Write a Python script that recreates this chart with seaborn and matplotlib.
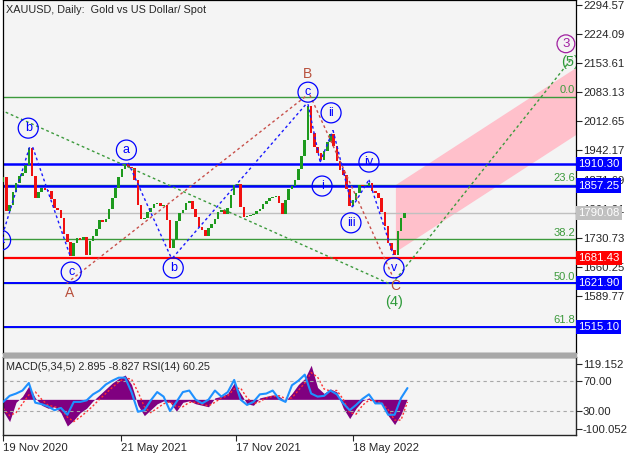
import numpy as np
import pandas as pd
import matplotlib
matplotlib.use("Agg")
import matplotlib.pyplot as plt
import matplotlib.dates as mdates
import matplotlib.transforms as mtrans
from matplotlib.patches import Rectangle, Polygon
import seaborn as sns

# ---------------- data ----------------
title = "XAUUSD, Daily:  Gold vs US Dollar/ Spot"
indicator_text = "MACD(5,34,5) 2.895 -8.827 RSI(14) 60.25"
start_date = "2020-11-19"

# closes sampled every 5 calendar days
close = [1878, 1795, 1810, 1842, 1863, 1880, 1887, 1907, 1948, 1880,
         1827, 1842, 1851, 1846, 1844, 1825, 1803, 1798, 1779, 1740,
         1721, 1687, 1718, 1730, 1725, 1733, 1689, 1723, 1735, 1752,
         1774, 1770, 1776, 1800, 1827, 1851, 1878, 1897, 1909, 1902,
         1899, 1871, 1810, 1776, 1779, 1793, 1803, 1813, 1815, 1808,
         1810, 1774, 1705, 1725, 1771, 1791, 1798, 1815, 1820, 1800,
         1781, 1757, 1750, 1735, 1755, 1764, 1776, 1793, 1798, 1788,
         1803, 1834, 1859, 1861, 1805, 1781, 1784, 1785, 1788, 1796,
         1800, 1813, 1820, 1827, 1830, 1832, 1815, 1788, 1822, 1849,
         1856, 1871, 1897, 1929, 1967, 2050, 1985, 1950, 1936, 1919,
         1941, 1962, 1982, 1953, 1917, 1895, 1883, 1849, 1808, 1822,
         1839, 1859, 1855, 1856, 1863, 1844, 1839, 1827, 1793, 1759,
         1718, 1701, 1690, 1747, 1779, 1790.08]
first_open = 1866

# indicator values sampled every 10 calendar days
macd = [-40, -75, -10, 10, 45, 5, -20, -30, -25, -45,
        -90, -70, -45, -30, -5, 15, 35, 55, 70, 82,
        50, -20, -55, -35, -15, -5, -10, -40, -10, -5,
        -15, -20, -25, 5, 10, 20, 55, 20, -15, -20,
        5, 10, 15, 10, -5, 20, 50, 70, 115, 40,
        20, 35, 25, -30, -65, -30, -5, 5, -10, -15,
        -55, -85, -50, 2.895]
signal = [-30, -55, -45, -15, 15, 25, 0, -20, -25, -30,
          -60, -75, -60, -42, -22, 0, 20, 40, 58, 72,
          68, 25, -25, -45, -30, -15, -8, -25, -25, -10,
          -10, -17, -22, -10, 5, 12, 35, 38, 5, -15,
          -8, 5, 10, 12, 3, 5, 30, 55, 90, 75,
          35, 28, 30, 0, -45, -50, -20, -3, -5, -12,
          -35, -70, -70, -8.827]
rsi = [42, 50, 53, 57, 67, 41, 39, 36, 31, 34,
       25, 42, 42, 44, 52, 57, 65, 70, 74, 74,
       55, 29, 31, 44, 55, 49, 30, 42, 55, 57,
       45, 40, 45, 57, 49, 55, 71, 45, 38, 42,
       52, 53, 57, 46, 42, 64, 70, 78, 53, 49,
       50, 57, 52, 40, 31, 38, 46, 52, 40, 40,
       25, 25, 47, 60.25]

price_ticks = [2294.57, 2224.09, 2153.61, 2083.13, 2012.65, 1942.17,
               1871.69, 1801.21, 1730.73, 1660.25, 1589.77]
date_ticks = ["2020-11-19", "2021-05-21", "2021-11-17", "2022-05-18"]
date_labels = ["19 Nov 2020", "21 May 2021", "17 Nov 2021", "18 May 2022"]

level_prices = [1910.30, 1857.25, 1790.08, 1681.43, 1621.90, 1515.10]
level_colors = ["#0000FF", "#0000FF", "#C0C0C0", "#FF0000", "#0000FF", "#0000FF"]
level_widths = [1.8, 1.8, 1.0, 1.6, 1.4, 1.4]

fib_names = ["0.0", "23.6", "38.2", "50.0", "61.8"]
fib_prices = [2072.0, 1859.6, 1728.2, 1622.0, 1515.8]

# wave labels: (text, day offset, price)
minor_waves = [("a", -4, 1725), ("b", 39, 1996), ("c", 106, 1648),
               ("a", 192, 1943), ("b", 265, 1658), ("c", 475, 2083),
               ("ii", 511, 2033), ("i", 497, 1856), ("iv", 570, 1914),
               ("iii", 542, 1767), ("v", 609, 1658)]
major_waves = [("A", 103, 1598), ("B", 475, 2126), ("C", 611, 1615)]
green_waves = [("(4)", 609, 1576), ("(5)", 884, 2156)]
purple_waves = [("3", 877, 2200)]

green_segs = [((-4, 2040), (603, 1619)), ((606, 1619), (887, 2166))]
brown_segs = [((99, 1621), (474, 2076)), ((478, 2076), (608, 1634))]
blue_segs = [((-1, 1738), (42, 1955)), ((46, 1950), (105, 1684)),
             ((195, 1912), (262, 1682)), ((264, 1682), (472, 2054)),
             ((475, 2054), (494, 1914)), ((494, 1914), (514, 1991)),
             ((514, 1991), (544, 1805)), ((544, 1805), (570, 1871)),
             ((570, 1871), (608, 1689))]
channel_days = [612, 893, 893, 612]
channel_prices = [1858.5, 2141.5, 1979.5, 1696.5]

# ---------------- style ----------------
sns.set_style("white")
plt.rcParams["font.family"] = ["Liberation Sans", "DejaVu Sans"]
plt.rcParams["font.size"] = 8

BG = "#F4F4F4"
W, H = 640, 457
fig = plt.figure(figsize=(6.4, 4.57), dpi=100)
fig.patch.set_facecolor("white")

ax = fig.add_axes([3 / W, 1 - 353 / H, 573 / W, 353 / H])
ax2 = fig.add_axes([3 / W, 1 - 435 / H, 573 / W, 78 / H])
ax3 = ax2.twinx()
fig.patches.append(Rectangle((3 / W, 1 - 357 / H), 573 / W, 4 / H,
                             transform=fig.transFigure, color="#A8A8A8", zorder=0))

d0 = mdates.date2num(pd.Timestamp(start_date))
dates = pd.date_range(start_date, periods=len(close), freq="5D")
xc = mdates.date2num(dates)
closes = np.array(close, dtype=float)
opens = np.concatenate([[first_open], closes[:-1]])

for a in (ax, ax2):
    a.set_facecolor(BG)
    a.set_xlim(d0 - 0.3, d0 + 892.7)
    for s in a.spines.values():
        s.set_color("black")
        s.set_linewidth(0.9)

# main panel
ax.set_ylim(1452.2, 2305.9)
ax.add_patch(Polygon(list(zip(d0 + np.array(channel_days), channel_prices)),
                     closed=True, color="#FFC0CB", lw=0, zorder=1))

for p, n in zip(fib_prices, fib_names):
    ax.axhline(p, color="#3C9A3C", lw=1.0, zorder=2)
    ax.text(d0 + 891, p + 3, n, color="#3C9A3C", ha="right", va="bottom",
            fontsize=8, zorder=6)
for p, c, lw in zip(level_prices, level_colors, level_widths):
    ax.axhline(p, color=c, lw=lw, zorder=2)

heights = closes - opens
cols = np.where(heights >= 0, "#1E9A1E", "#F01010")
heights = np.where(np.abs(heights) < 2.5, np.where(heights >= 0, 2.5, -2.5), heights)
ax.bar(xc, heights, bottom=opens, width=4.0, color=cols, linewidth=0, zorder=4)

def seg(segs, color):
    for (xa, ya), (xb, yb) in segs:
        ax.plot([d0 + xa, d0 + xb], [ya, yb], color=color, lw=1.0,
                linestyle=(0, (2, 2)), zorder=5)

seg(green_segs, "#3C9A3C")
seg(brown_segs, "#C8504A")
seg(blue_segs, "#1A1AFF")

for t, dd, p in minor_waves:
    ax.text(d0 + dd, p, t, color="#0000FF", fontsize=9, ha="center", va="center",
            zorder=7, clip_on=True,
            bbox=dict(boxstyle="circle,pad=0.32", fc="none", ec="#0000FF", lw=0.9))
for t, dd, p in major_waves:
    ax.text(d0 + dd, p, t, color="#B8503C", fontsize=10, ha="center", va="center", zorder=7)
for t, dd, p in green_waves:
    ax.text(d0 + dd, p, t, color="#2E9A3A", fontsize=10.5, ha="center", va="center",
            zorder=7, clip_on=True)
for t, dd, p in purple_waves:
    ax.text(d0 + dd, p, t, color="#A020A0", fontsize=9.5, ha="center", va="center",
            zorder=7, bbox=dict(boxstyle="circle,pad=0.22", fc="none", ec="#A020A0", lw=0.9))

ax.text(0.006, 0.972, title, transform=ax.transAxes, fontsize=7.8, ha="left", va="center")

ax.set_xticks([])
ax.yaxis.tick_right()
ax.set_yticks(price_ticks)
ax.set_yticklabels([f"{v:.2f}" for v in price_ticks])
ax.tick_params(axis="y", right=True, length=4, width=0.8, pad=1, labelsize=8.2)

tr = mtrans.blended_transform_factory(ax.transAxes, ax.transData)
for p, c in zip(level_prices, level_colors):
    ax.text(1.004, p, f"{p:.2f}", transform=tr, color="white", fontsize=8.2,
            ha="left", va="center", zorder=10, clip_on=False,
            bbox=dict(boxstyle="square,pad=0.18", fc=c, ec="none"))

# indicator panel
xm = mdates.date2num(pd.date_range(start_date, periods=len(macd), freq="10D"))
ax2.set_ylim(-120.3, 142.8)
ax3.set_ylim(-1.7, 101.3)
ax2.fill_between(xm, 0, macd, color="#800080", lw=0, zorder=2)
sns.lineplot(x=xm, y=signal, ax=ax2, color="#FF3030", lw=1.0,
             linestyle=(0, (1.5, 1.5)), zorder=3)
ax3.axhline(70, color="#A8A8A8", lw=0.8, linestyle=(0, (3, 3)))
ax3.axhline(30, color="#A8A8A8", lw=0.8, linestyle=(0, (3, 3)))
sns.lineplot(x=xm, y=rsi, ax=ax3, color="#1E90FF", lw=1.5, zorder=4)
ax2.set_xlim(d0 - 0.3, d0 + 892.7)
ax3.set_xlim(d0 - 0.3, d0 + 892.7)

ax2.yaxis.tick_right()
ax2.set_yticks([119.152, -100.052])
ax2.set_yticklabels(["119.152", "-100.052"])
ax3.set_yticks([70, 30])
ax3.set_yticklabels(["70.00", "30.00"])
for a in (ax2, ax3):
    a.tick_params(axis="y", right=True, left=False, length=4, width=0.8, pad=1, labelsize=8.2)
ax2.tick_params(axis="y", labelleft=False)
ax3.set_ylabel("")
ax2.set_ylabel("")

xt = [mdates.date2num(pd.Timestamp(d)) for d in date_ticks]
ax2.set_xticks(xt)
ax2.set_xticklabels(date_labels, ha="left")
ax2.tick_params(axis="x", bottom=True, length=4, width=0.8, pad=2, labelsize=8.2)
ax3.tick_params(axis="x", bottom=False, labelbottom=False)

ax2.text(0.006, 0.87, indicator_text, transform=ax2.transAxes, fontsize=7.8,
         ha="left", va="center", zorder=6)

fig.savefig("out.png", dpi=100, facecolor=fig.get_facecolor())
